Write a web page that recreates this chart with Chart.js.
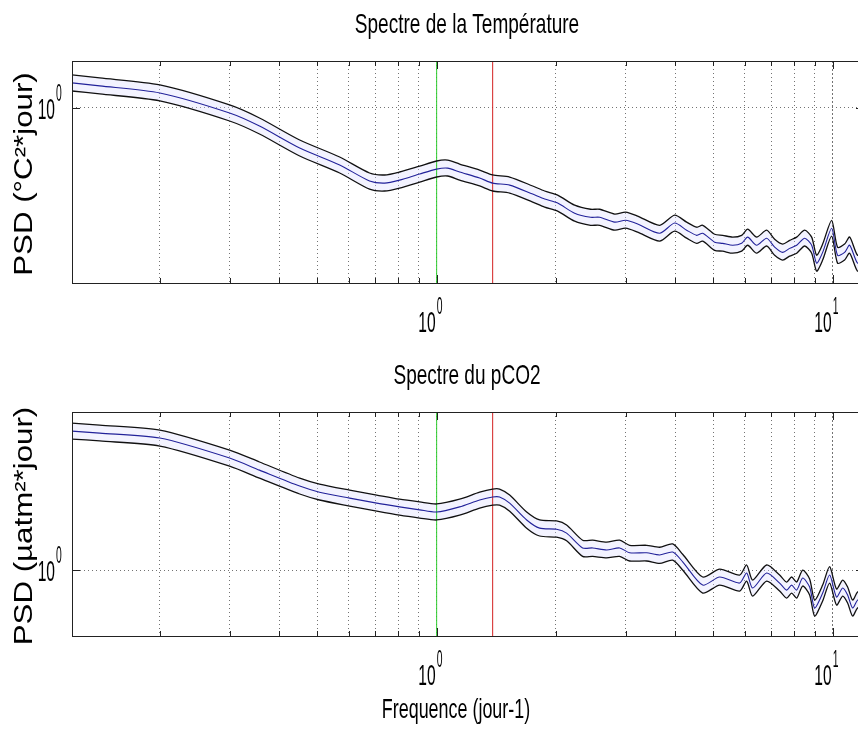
<!DOCTYPE html>
<html>
<head>
<meta charset="utf-8">
<script src="https://cdn.jsdelivr.net/npm/chart.js@4.4.1/dist/chart.umd.min.js"></script>
<style>
html, body { margin: 0; padding: 0; background: #fff; overflow: hidden; width: 858px; height: 729px; }
canvas { position: absolute; left: 0; }
#temp { top: 0; }
#pco2 { top: 345px; }
</style>
</head>
<body>
<canvas id="temp" width="870" height="345"></canvas>
<canvas id="pco2" width="870" height="384"></canvas>
<script>
// frequencies (jour-1) and spectra
var freqT = [0.12, 0.141, 0.2, 0.3, 0.357, 0.451, 0.569, 0.677, 0.739, 0.806, 0.906, 1.0, 1.066, 1.143, 1.284, 1.385, 1.529, 1.748, 1.874, 2.021, 2.231, 2.448, 2.58, 2.816, 3.001, 3.218, 3.657, 3.99, 4.279, 4.536, 4.697, 5.036, 5.276, 5.592, 5.891, 6.101, 6.429, 6.813, 7.138, 7.478, 7.789, 8.113, 8.499, 8.851, 9.112, 9.435, 9.943, 10.29, 10.72, 11.04, 11.56, 12]
var psdT = [1.259, 1.225, 1.148, 0.955, 0.847, 0.692, 0.592, 0.511, 0.501, 0.515, 0.545, 0.570, 0.575, 0.555, 0.525, 0.501, 0.492, 0.453, 0.433, 0.417, 0.380, 0.366, 0.366, 0.350, 0.356, 0.344, 0.316, 0.347, 0.325, 0.310, 0.316, 0.291, 0.288, 0.283, 0.288, 0.305, 0.283, 0.302, 0.278, 0.265, 0.275, 0.283, 0.302, 0.283, 0.240, 0.265, 0.331, 0.258, 0.265, 0.283, 0.240, 0.251]
var psdTup = [1.355, 1.318, 1.236, 1.028, 0.912, 0.745, 0.637, 0.550, 0.540, 0.555, 0.586, 0.614, 0.619, 0.597, 0.565, 0.540, 0.530, 0.488, 0.466, 0.449, 0.409, 0.394, 0.394, 0.377, 0.384, 0.370, 0.340, 0.373, 0.350, 0.334, 0.340, 0.313, 0.310, 0.305, 0.310, 0.328, 0.305, 0.325, 0.299, 0.286, 0.296, 0.305, 0.325, 0.305, 0.258, 0.286, 0.356, 0.278, 0.286, 0.305, 0.258, 0.270]
var psdTlo = [1.169, 1.138, 1.067, 0.887, 0.787, 0.643, 0.550, 0.474, 0.466, 0.479, 0.506, 0.530, 0.535, 0.515, 0.488, 0.466, 0.457, 0.421, 0.402, 0.387, 0.353, 0.340, 0.340, 0.325, 0.331, 0.319, 0.294, 0.322, 0.302, 0.288, 0.294, 0.270, 0.268, 0.263, 0.268, 0.283, 0.263, 0.281, 0.258, 0.247, 0.256, 0.263, 0.281, 0.263, 0.223, 0.247, 0.308, 0.240, 0.247, 0.263, 0.223, 0.233]

var freqP = [0.12, 0.141, 0.2, 0.3, 0.357, 0.451, 0.506, 0.603, 0.706, 0.806, 0.906, 1.0, 1.143, 1.284, 1.385, 1.442, 1.529, 1.688, 1.82, 2.009, 2.129, 2.337, 2.477, 2.687, 2.898, 3.071, 3.391, 3.657, 3.945, 4.181, 4.697, 5.184, 5.823, 6.065, 6.281, 6.813, 7.347, 7.65, 7.877, 8.113, 8.401, 8.748, 9.006, 9.435, 9.827, 10.23, 10.6, 10.91, 11.23, 11.56, 12]
var psdP = [4.95, 4.84, 4.57, 3.63, 3.16, 2.63, 2.45, 2.29, 2.16, 2.07, 2.00, 1.95, 2.07, 2.24, 2.32, 2.32, 2.16, 1.78, 1.62, 1.60, 1.53, 1.29, 1.29, 1.26, 1.29, 1.22, 1.22, 1.19, 1.23, 1.10, 0.841, 0.923, 0.861, 0.966, 0.813, 0.966, 0.861, 0.794, 0.841, 0.794, 0.912, 0.822, 0.646, 0.767, 0.944, 0.733, 0.813, 0.750, 0.646, 0.708, 0.724]
var psdPup = [5.43, 5.31, 5.01, 3.98, 3.47, 2.88, 2.69, 2.51, 2.37, 2.26, 2.19, 2.14, 2.26, 2.45, 2.54, 2.54, 2.37, 1.95, 1.78, 1.76, 1.68, 1.41, 1.41, 1.38, 1.41, 1.33, 1.33, 1.30, 1.35, 1.20, 0.923, 1.01, 0.944, 1.06, 0.891, 1.06, 0.944, 0.871, 0.923, 0.871, 1.00, 0.902, 0.708, 0.841, 1.04, 0.804, 0.891, 0.822, 0.708, 0.776, 0.794]
var psdPlo = [4.52, 4.42, 4.17, 3.31, 2.88, 2.40, 2.24, 2.09, 1.97, 1.88, 1.82, 1.78, 1.88, 2.04, 2.11, 2.11, 1.97, 1.62, 1.48, 1.46, 1.40, 1.17, 1.17, 1.15, 1.17, 1.11, 1.11, 1.08, 1.12, 1.00, 0.767, 0.841, 0.785, 0.881, 0.741, 0.881, 0.785, 0.724, 0.767, 0.724, 0.832, 0.750, 0.589, 0.700, 0.861, 0.668, 0.741, 0.684, 0.589, 0.646, 0.661]

// vertical reference lines (jour-1)
var markFreqs = [1.0, 1.385]
var markColors = ['#2ecc2e', '#d42020']

// axis ticks
var xGrid = [0.2, 0.3, 0.4, 0.5, 0.6, 0.7, 0.8, 0.9, 1, 2, 3, 4, 5, 6, 7, 8, 9, 10]
var xDecades = [1, 10]
var xRange = [0.12, 12]
var tempRange = [0.2, 1.54]
var co2Range = [0.468, 6.17]

var FONT = '"Liberation Sans", Arial, sans-serif'

function squeezed(ctx, txt, x, y, size, sx, align) {
    ctx.save()
    ctx.translate(x, y)
    ctx.scale(sx, 1)
    ctx.font = size + 'px ' + FONT
    ctx.textAlign = align
    ctx.textBaseline = 'alphabetic'
    ctx.fillText(txt, 0, 0)
    ctx.restore()
}

function power(ctx, exp, x, y) {
    squeezed(ctx, '10', x - 1, y, 30, 0.52, 'right')
    squeezed(ctx, exp, x, y - 18, 23, 0.45, 'left')
}

// matlab style box, inward ticks and labels
var matlabFrame = {
    id: 'matlabFrame',
    afterDraw: function(chart, args, opts) {
        var ctx = chart.ctx, a = chart.chartArea
        var x = chart.scales.x, y = chart.scales.y
        ctx.save()
        ctx.fillStyle = '#000'
        ctx.strokeStyle = '#222'
        ctx.lineWidth = 1
        ctx.strokeRect(a.left + 0.5, a.top + 0.5, a.right - a.left, a.bottom - a.top)
        ctx.beginPath()
        x.ticks.forEach(function(t) {
            var px = Math.round(x.getPixelForValue(t.value)) + 0.5
            var len = xDecades.indexOf(t.value) >= 0 ? 8 : 5
            ctx.moveTo(px, a.bottom); ctx.lineTo(px, a.bottom - len)
            ctx.moveTo(px, a.top); ctx.lineTo(px, a.top + len)
        })
        y.ticks.forEach(function(t) {
            var py = Math.round(y.getPixelForValue(t.value)) + 0.5
            ctx.moveTo(a.left, py); ctx.lineTo(a.left + 8, py)
            ctx.moveTo(a.right, py); ctx.lineTo(a.right - 8, py)
        })
        ctx.stroke()

        xDecades.forEach(function(v) {
            power(ctx, String(Math.round(Math.log10(v))), x.getPixelForValue(v), a.bottom + 49)
        })
        power(ctx, '0', a.left - 16, y.getPixelForValue(1) + 11)

        var cx = (a.left + a.right) / 2
        squeezed(ctx, opts.title, cx - 1, a.top - 28, 28, 0.68, 'center')
        if (opts.xlabel) squeezed(ctx, opts.xlabel, cx - 12, a.bottom + 82, 28, 0.64, 'center')

        ctx.save()
        ctx.translate(32, (a.top + a.bottom) / 2 + 2)
        ctx.rotate(-Math.PI / 2)
        ctx.scale(1.25, 1)
        ctx.font = '25px ' + FONT
        ctx.textAlign = 'center'
        ctx.fillText(opts.ylabel, 0, 0)
        ctx.restore()
        ctx.restore()
    }
}

function pts(freq, vals) {
    return freq.map(function(f, i) { return {x: f, y: vals[i]} })
}

function makeChart(id, freq, up, mid, lo, yr, top, xh, labels) {
    var sets = [
        {data: pts(freq, up), borderColor: '#111', borderWidth: 1.3, fill: '+2', backgroundColor: 'rgba(215,215,255,0.3)'},
        {data: pts(freq, mid), borderColor: '#22229a', borderWidth: 1.1, fill: false},
        {data: pts(freq, lo), borderColor: '#111', borderWidth: 1.3, fill: false}
    ]
    markFreqs.forEach(function(f, i) {
        sets.push({data: [{x: f, y: yr[0]}, {x: f, y: yr[1]}], borderColor: markColors[i], borderWidth: 1, fill: false, tension: 0})
    })
    var ctx = document.getElementById(id).getContext('2d')
    return new Chart(ctx, {
        type: 'line',
        data: {datasets: sets},
        options: {
            responsive: false,
            animation: false,
            layout: {padding: {top: top, right: 6, left: 0, bottom: 0}},
            elements: {point: {radius: 0}, line: {borderWidth: 1, tension: 0.25}},
            plugins: {
                legend: {display: false},
                tooltip: {enabled: false},
                title: {display: false},
                filler: {drawTime: 'beforeDatasetsDraw'},
                matlabFrame: labels
            },
            scales: {
                x: {
                    type: 'logarithmic', min: xRange[0], max: xRange[1],
                    afterBuildTicks: function(s) { s.ticks = xGrid.map(function(v) { return {value: v} }) },
                    afterFit: function(s) { s.height = xh },
                    ticks: {display: false},
                    grid: {color: 'rgba(0,0,0,0.55)', lineWidth: 1, drawTicks: false},
                    border: {display: false, dash: function(c) { return c.tick && c.tick.value === 10 ? [2, 2] : [1, 3] }}
                },
                y: {
                    type: 'logarithmic', min: yr[0], max: yr[1],
                    afterBuildTicks: function(s) { s.ticks = [{value: 1}] },
                    afterFit: function(s) { s.width = 72 },
                    ticks: {display: false},
                    grid: {color: 'rgba(0,0,0,0.55)', lineWidth: 1, drawTicks: false},
                    border: {display: false, dash: [1, 3]}
                }
            }
        },
        plugins: [matlabFrame]
    })
}

var tempChart = makeChart('temp', freqT, psdTup, psdT, psdTlo, tempRange, 61, 62,
    {title: 'Spectre de la Température', ylabel: 'PSD (°C²*jour)'})
var co2Chart = makeChart('pco2', freqP, psdPup, psdP, psdPlo, co2Range, 67, 93,
    {title: 'Spectre du pCO2', ylabel: 'PSD (µatm²*jour)', xlabel: 'Frequence (jour-1)'})
</script>
</body>
</html>
